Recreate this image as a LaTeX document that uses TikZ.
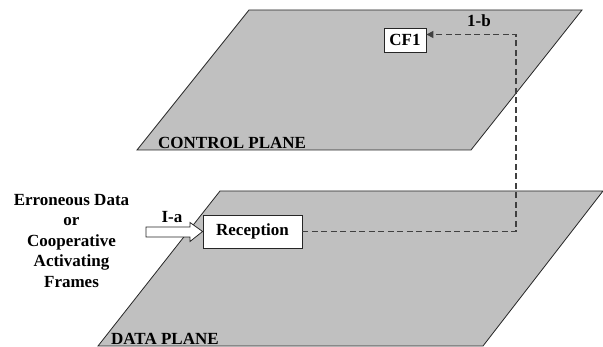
\documentclass[tikz,border=0pt]{standalone}
\usepackage{fontspec}
\setmainfont{Liberation Serif}
\usetikzlibrary{arrows.meta}
\definecolor{planegray}{HTML}{C0C0C0}
\definecolor{dashgray}{HTML}{404040}
\begin{document}
\begin{tikzpicture}[x=1pt,y=-1pt,
  plane/.style={fill=planegray,draw=black!85,line width=0.8pt},
  lbl/.style={font=\fontsize{17}{20.5}\selectfont\bfseries,inner sep=0pt},
  fbox/.style={draw=black!85,fill=white,line width=0.8pt,font=\fontsize{17}{20.5}\selectfont\bfseries,inner sep=0pt},
  conn/.style={draw=dashgray,line width=1.3pt,dash pattern=on 6pt off 3.5pt},
  hollow/.style={draw=black!85,fill=white,line width=0.8pt,line join=miter}]
\useasboundingbox (0,0) rectangle (603,347);
% control plane
\draw[plane] (249,10) -- (582,10) -- (471,150) -- (137,150) -- cycle;
\node[lbl,anchor=base west] (cplabel) at (158,148.5) {CONTROL PLANE};
% data plane
\draw[plane] (220,191) -- (603,191) -- (483,346) -- (98,346) -- cycle;
\node[lbl,anchor=base west] (dplabel) at (111,344.5) {DATA PLANE};
% boxes
\node[fbox,minimum width=99pt,minimum height=33pt] (rec) at (252.5,231.5) {Reception};
\node[fbox,minimum width=42pt,minimum height=24pt] (cf1) at (405,40) {CF1};
% dashed connector
\coordinate (c1) at (516,231.5);
\coordinate (c2) at (516,34.5);
\draw[conn,-{Triangle[length=7pt,width=7pt]}] (rec.east) -- (c1) -- (c2) -- (cf1.east |- c2);
\node[lbl] (lb) at (479,21) {1-b};
% left text
\node[lbl,align=center,anchor=north] (src) at (71.5,194) {Erroneous Data\\or\\Cooperative\\Activating\\Frames};
\node[lbl] (la) at (172,217) {I-a};
% hollow arrow
\coordinate (tip) at (rec.west);
\draw[hollow] (146,227) -- (190,227) -- (190,222.5) -- (tip) -- (190,241.5) -- (190,237) -- (146,237) -- cycle;
\end{tikzpicture}
\end{document}
